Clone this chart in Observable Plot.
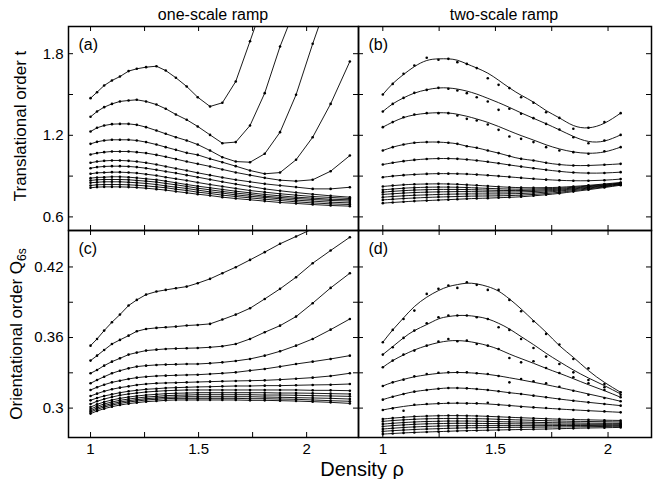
<!DOCTYPE html>
<html><head><meta charset="utf-8">
<script src="https://cdn.jsdelivr.net/npm/d3@7"></script>
<script src="https://cdn.jsdelivr.net/npm/@observablehq/plot@0.6"></script>
<style>
body{margin:0;background:#fff;}
#wrap{position:relative;width:664px;height:479px;font-family:"Liberation Sans",Arial,sans-serif;color:#000;overflow:hidden;}
.pn{position:absolute;}
.lbl{position:absolute;white-space:nowrap;transform:translate(-50%,-50%);line-height:1;}
.rot{transform:translate(-50%,-50%) rotate(-90deg);}
sub{font-size:12px;vertical-align:-4px;}
</style></head><body><div id="wrap"></div>
<script>
// density values (x) of the samples
const rhoOne = [1.0, 1.03, 1.063, 1.099, 1.136, 1.176, 1.214, 1.257, 1.305, 1.348, 1.395, 1.445, 1.496, 1.553, 1.61, 1.672, 1.738, 1.806, 1.877, 1.951, 2.028, 2.111, 2.2];
const rhoTwo = [1.0, 1.044, 1.092, 1.14, 1.195, 1.247, 1.291, 1.331, 1.373, 1.417, 1.466, 1.514, 1.562, 1.614, 1.669, 1.725, 1.784, 1.846, 1.913, 1.984, 2.056];

// (a) translational order t, one-scale ramp
const tOne = [
  [1.473, 1.517, 1.566, 1.603, 1.632, 1.672, 1.689, 1.701, 1.708, 1.676, 1.623, 1.559, 1.480, 1.412, 1.439, 1.596, 1.892, 2.2],
  [1.336, 1.375, 1.407, 1.431, 1.449, 1.456, 1.461, 1.449, 1.426, 1.395, 1.353, 1.314, 1.265, 1.203, 1.142, 1.150, 1.272, 1.510, 1.853, 2.15],
  [1.228, 1.255, 1.272, 1.282, 1.284, 1.284, 1.277, 1.260, 1.235, 1.211, 1.186, 1.162, 1.132, 1.088, 1.039, 1.007, 1.002, 1.064, 1.223, 1.498, 1.873, 2.25],
  [1.137, 1.152, 1.162, 1.167, 1.167, 1.167, 1.162, 1.150, 1.132, 1.113, 1.093, 1.071, 1.056, 1.027, 1.002, 0.973, 0.941, 0.917, 0.926, 1.020, 1.186, 1.431, 1.743],
  [1.059, 1.069, 1.076, 1.081, 1.081, 1.081, 1.076, 1.069, 1.056, 1.042, 1.025, 1.007, 0.990, 0.971, 0.949, 0.927, 0.907, 0.887, 0.870, 0.863, 0.873, 0.936, 1.051],
  [0.998, 1.007, 1.012, 1.015, 1.015, 1.012, 1.007, 0.998, 0.985, 0.971, 0.956, 0.941, 0.924, 0.907, 0.890, 0.873, 0.858, 0.843, 0.831, 0.819, 0.806, 0.806, 0.818],
  [0.958, 0.966, 0.971, 0.973, 0.973, 0.971, 0.966, 0.958, 0.946, 0.934, 0.922, 0.907, 0.892, 0.875, 0.858, 0.841, 0.824, 0.806, 0.792, 0.779, 0.767, 0.755, 0.745],
  [0.917, 0.924, 0.926, 0.929, 0.929, 0.926, 0.922, 0.914, 0.904, 0.892, 0.880, 0.868, 0.853, 0.838, 0.824, 0.809, 0.794, 0.782, 0.770, 0.760, 0.750, 0.743, 0.735],
  [0.885, 0.890, 0.892, 0.895, 0.895, 0.892, 0.887, 0.880, 0.873, 0.863, 0.851, 0.838, 0.826, 0.814, 0.802, 0.789, 0.777, 0.765, 0.755, 0.745, 0.738, 0.730, 0.726],
  [0.868, 0.873, 0.875, 0.875, 0.875, 0.873, 0.868, 0.863, 0.856, 0.846, 0.836, 0.824, 0.811, 0.799, 0.787, 0.775, 0.765, 0.752, 0.743, 0.735, 0.728, 0.721, 0.716],
  [0.851, 0.855, 0.858, 0.858, 0.858, 0.855, 0.851, 0.846, 0.838, 0.828, 0.819, 0.809, 0.797, 0.784, 0.775, 0.762, 0.752, 0.743, 0.733, 0.723, 0.716, 0.708, 0.703],
  [0.831, 0.836, 0.838, 0.838, 0.838, 0.836, 0.833, 0.828, 0.821, 0.814, 0.804, 0.794, 0.782, 0.772, 0.760, 0.750, 0.740, 0.730, 0.721, 0.711, 0.703, 0.696, 0.691],
  [0.814, 0.819, 0.821, 0.821, 0.821, 0.819, 0.816, 0.811, 0.804, 0.797, 0.787, 0.777, 0.767, 0.757, 0.745, 0.735, 0.726, 0.716, 0.706, 0.699, 0.691, 0.684, 0.679]
];

// (b) translational order t, two-scale ramp: sampled points
const tTwo = [
  [1.500, 1.578, 1.652, 1.713, 1.770, 1.755, 1.762, 1.738, 1.725, 1.694, 1.620, 1.571, 1.547, 1.480, 1.439, 1.370, 1.328, 1.248, 1.255, 1.297, 1.363],
  [1.375, 1.431, 1.475, 1.512, 1.534, 1.549, 1.542, 1.529, 1.510, 1.480, 1.449, 1.387, 1.395, 1.358, 1.326, 1.284, 1.243, 1.186, 1.142, 1.162, 1.203],
  [1.260, 1.297, 1.333, 1.353, 1.363, 1.363, 1.363, 1.346, 1.321, 1.309, 1.279, 1.240, 1.191, 1.174, 1.150, 1.113, 1.088, 1.076, 1.064, 1.083, 1.113],
  [1.088, 1.113, 1.132, 1.145, 1.150, 1.150, 1.145, 1.137, 1.120, 1.108, 1.088, 1.069, 1.047, 1.027, 1.015, 0.998, 0.985, 0.978, 0.978, 0.983, 0.990],
  [0.985, 0.998, 1.010, 1.019, 1.026, 1.029, 1.029, 1.027, 1.022, 1.015, 1.005, 0.994, 0.982, 0.970, 0.958, 0.946, 0.935, 0.926, 0.922, 0.923, 0.929],
  [0.892, 0.900, 0.907, 0.912, 0.916, 0.918, 0.918, 0.917, 0.915, 0.911, 0.906, 0.900, 0.894, 0.887, 0.880, 0.874, 0.869, 0.866, 0.866, 0.870, 0.878],
  [0.824, 0.830, 0.836, 0.840, 0.842, 0.843, 0.842, 0.840, 0.836, 0.832, 0.827, 0.822, 0.818, 0.815, 0.814, 0.815, 0.818, 0.824, 0.832, 0.842, 0.853],
  [0.799, 0.805, 0.811, 0.815, 0.818, 0.819, 0.819, 0.818, 0.816, 0.813, 0.810, 0.807, 0.805, 0.804, 0.805, 0.807, 0.811, 0.818, 0.827, 0.838, 0.849],
  [0.782, 0.788, 0.793, 0.797, 0.800, 0.802, 0.802, 0.802, 0.801, 0.799, 0.797, 0.795, 0.794, 0.794, 0.796, 0.799, 0.804, 0.812, 0.822, 0.834, 0.846],
  [0.765, 0.770, 0.775, 0.779, 0.782, 0.784, 0.785, 0.786, 0.786, 0.785, 0.784, 0.783, 0.783, 0.784, 0.787, 0.791, 0.797, 0.806, 0.817, 0.830, 0.843],
  [0.745, 0.750, 0.755, 0.759, 0.762, 0.765, 0.767, 0.768, 0.769, 0.769, 0.769, 0.769, 0.770, 0.772, 0.776, 0.782, 0.790, 0.800, 0.812, 0.826, 0.840],
  [0.725, 0.730, 0.735, 0.739, 0.743, 0.746, 0.748, 0.750, 0.752, 0.753, 0.754, 0.755, 0.757, 0.760, 0.765, 0.772, 0.781, 0.793, 0.806, 0.821, 0.837],
  [0.701, 0.706, 0.711, 0.716, 0.720, 0.724, 0.727, 0.730, 0.733, 0.736, 0.738, 0.741, 0.744, 0.748, 0.755, 0.763, 0.773, 0.786, 0.800, 0.816, 0.833]
];
// (b) smooth fitted curves (first rows; others follow the points)
const tTwoFit = [
  [1.500, 1.580, 1.647, 1.705, 1.750, 1.762, 1.762, 1.752, 1.725, 1.695, 1.657, 1.605, 1.549, 1.495, 1.444, 1.382, 1.328, 1.272, 1.255, 1.289, 1.363],
  [1.375, 1.431, 1.475, 1.510, 1.535, 1.548, 1.548, 1.540, 1.525, 1.503, 1.472, 1.440, 1.405, 1.365, 1.325, 1.285, 1.240, 1.192, 1.155, 1.158, 1.203],
  [1.260, 1.297, 1.330, 1.350, 1.362, 1.366, 1.364, 1.355, 1.340, 1.320, 1.295, 1.265, 1.232, 1.198, 1.165, 1.130, 1.100, 1.078, 1.068, 1.078, 1.113]
];

// (c) orientational order Q6s, one-scale ramp
const qOne = [
  [0.3531, 0.3588, 0.3659, 0.3730, 0.3795, 0.3872, 0.3920, 0.3965, 0.3991, 0.4005, 0.4019, 0.4033, 0.4062, 0.4099, 0.4147, 0.4198, 0.4260, 0.4326, 0.4397, 0.4459, 0.4524],
  [0.3404, 0.3446, 0.3494, 0.3545, 0.3580, 0.3616, 0.3653, 0.3673, 0.3682, 0.3687, 0.3693, 0.3702, 0.3707, 0.3716, 0.3753, 0.3795, 0.3849, 0.3928, 0.4014, 0.4113, 0.4232, 0.4340, 0.4453],
  [0.3296, 0.3324, 0.3361, 0.3395, 0.3423, 0.3455, 0.3472, 0.3489, 0.3497, 0.3503, 0.3506, 0.3509, 0.3511, 0.3517, 0.3526, 0.3545, 0.3588, 0.3645, 0.3701, 0.3778, 0.3892, 0.4022, 0.4147],
  [0.3211, 0.3239, 0.3267, 0.3296, 0.3318, 0.3338, 0.3353, 0.3361, 0.3367, 0.3370, 0.3372, 0.3375, 0.3375, 0.3381, 0.3389, 0.3401, 0.3418, 0.3446, 0.3483, 0.3531, 0.3588, 0.3667, 0.3758],
  [0.3154, 0.3177, 0.3199, 0.3219, 0.3233, 0.3248, 0.3259, 0.3267, 0.3273, 0.3276, 0.3279, 0.3282, 0.3284, 0.3290, 0.3296, 0.3304, 0.3319, 0.3333, 0.3353, 0.3375, 0.3395, 0.3418, 0.3446],
  [0.3103, 0.3123, 0.3143, 0.3160, 0.3174, 0.3185, 0.3197, 0.3205, 0.3211, 0.3214, 0.3216, 0.3219, 0.3222, 0.3225, 0.3228, 0.3231, 0.3233, 0.3236, 0.3242, 0.3250, 0.3259, 0.3273, 0.3296],
  [0.3066, 0.3086, 0.3103, 0.3117, 0.3131, 0.3143, 0.3151, 0.3160, 0.3165, 0.3171, 0.3174, 0.3177, 0.3180, 0.3182, 0.3185, 0.3188, 0.3188, 0.3191, 0.3191, 0.3194, 0.3197, 0.3199, 0.3205],
  [0.3035, 0.3058, 0.3077, 0.3094, 0.3109, 0.3120, 0.3128, 0.3137, 0.3143, 0.3148, 0.3151, 0.3154, 0.3154, 0.3154, 0.3154, 0.3154, 0.3154, 0.3154, 0.3154, 0.3154, 0.3151, 0.3151, 0.3148],
  [0.3009, 0.3032, 0.3052, 0.3069, 0.3083, 0.3094, 0.3103, 0.3111, 0.3117, 0.3123, 0.3126, 0.3128, 0.3131, 0.3131, 0.3131, 0.3131, 0.3131, 0.3131, 0.3128, 0.3128, 0.3126, 0.3123, 0.3120],
  [0.2992, 0.3015, 0.3035, 0.3052, 0.3066, 0.3077, 0.3086, 0.3094, 0.3100, 0.3106, 0.3109, 0.3111, 0.3114, 0.3114, 0.3114, 0.3114, 0.3114, 0.3111, 0.3111, 0.3109, 0.3106, 0.3103, 0.3100],
  [0.2978, 0.3001, 0.3021, 0.3038, 0.3052, 0.3063, 0.3072, 0.3080, 0.3086, 0.3092, 0.3094, 0.3097, 0.3097, 0.3097, 0.3097, 0.3097, 0.3097, 0.3094, 0.3092, 0.3089, 0.3086, 0.3083, 0.3077],
  [0.2967, 0.2989, 0.3009, 0.3026, 0.3040, 0.3052, 0.3060, 0.3069, 0.3075, 0.3080, 0.3083, 0.3083, 0.3083, 0.3083, 0.3083, 0.3083, 0.3080, 0.3080, 0.3077, 0.3075, 0.3069, 0.3063, 0.3058],
  [0.2953, 0.2975, 0.2995, 0.3012, 0.3026, 0.3038, 0.3046, 0.3055, 0.3060, 0.3066, 0.3069, 0.3069, 0.3069, 0.3069, 0.3069, 0.3069, 0.3066, 0.3066, 0.3063, 0.3060, 0.3055, 0.3049, 0.3040]
];

// (d) orientational order Q6s, two-scale ramp: sampled points
const qTwo = [
  [0.3560, 0.3665, 0.3758, 0.3829, 0.3971, 0.4014, 0.4042, 0.4022, 0.4070, 0.4048, 0.4005, 0.4005, 0.3920, 0.3823, 0.3738, 0.3631, 0.3540, 0.3418, 0.3338, 0.3205, 0.3134],
  [0.3455, 0.3517, 0.3597, 0.3659, 0.3721, 0.3772, 0.3787, 0.3787, 0.3787, 0.3772, 0.3758, 0.3687, 0.3665, 0.3588, 0.3511, 0.3438, 0.3375, 0.3304, 0.3239, 0.3177, 0.3114],
  [0.3347, 0.3404, 0.3455, 0.3489, 0.3531, 0.3565, 0.3588, 0.3568, 0.3574, 0.3545, 0.3531, 0.3503, 0.3426, 0.3389, 0.3398, 0.3341, 0.3299, 0.3262, 0.3211, 0.3154, 0.3092],
  [0.3188, 0.3219, 0.3242, 0.3270, 0.3290, 0.3301, 0.3304, 0.3304, 0.3304, 0.3296, 0.3290, 0.3273, 0.3219, 0.3248, 0.3228, 0.3211, 0.3182, 0.3148, 0.3114, 0.3086, 0.3058],
  [0.3072, 0.3097, 0.3120, 0.3140, 0.3154, 0.3165, 0.3171, 0.3171, 0.3168, 0.3162, 0.3154, 0.3143, 0.3131, 0.3120, 0.3106, 0.3092, 0.3077, 0.3063, 0.3049, 0.3035, 0.3021],
  [0.2984, 0.2998, 0.2978, 0.3029, 0.3035, 0.3040, 0.3043, 0.3043, 0.3040, 0.3040, 0.3046, 0.3029, 0.3021, 0.3012, 0.3006, 0.3001, 0.2992, 0.2984, 0.2978, 0.2972, 0.2964],
  [0.2907, 0.2915, 0.2922, 0.2928, 0.2932, 0.2935, 0.2936, 0.2936, 0.2935, 0.2933, 0.2930, 0.2926, 0.2922, 0.2918, 0.2914, 0.2910, 0.2906, 0.2903, 0.2900, 0.2897, 0.2895],
  [0.2887, 0.2894, 0.2900, 0.2905, 0.2909, 0.2911, 0.2912, 0.2912, 0.2911, 0.2910, 0.2908, 0.2905, 0.2902, 0.2899, 0.2896, 0.2893, 0.2890, 0.2888, 0.2886, 0.2884, 0.2882],
  [0.2864, 0.2871, 0.2877, 0.2882, 0.2886, 0.2888, 0.2890, 0.2890, 0.2890, 0.2889, 0.2887, 0.2885, 0.2883, 0.2881, 0.2879, 0.2877, 0.2875, 0.2874, 0.2872, 0.2871, 0.2870],
  [0.2844, 0.2851, 0.2857, 0.2862, 0.2866, 0.2868, 0.2870, 0.2871, 0.2871, 0.2870, 0.2869, 0.2868, 0.2867, 0.2866, 0.2865, 0.2864, 0.2863, 0.2863, 0.2862, 0.2862, 0.2862],
  [0.2822, 0.2829, 0.2835, 0.2840, 0.2844, 0.2847, 0.2849, 0.2850, 0.2851, 0.2851, 0.2851, 0.2851, 0.2851, 0.2851, 0.2851, 0.2851, 0.2852, 0.2852, 0.2852, 0.2853, 0.2853],
  [0.2802, 0.2808, 0.2813, 0.2818, 0.2822, 0.2825, 0.2828, 0.2830, 0.2832, 0.2833, 0.2834, 0.2835, 0.2836, 0.2837, 0.2838, 0.2839, 0.2840, 0.2841, 0.2842, 0.2844, 0.2845],
  [0.2779, 0.2784, 0.2789, 0.2793, 0.2797, 0.2800, 0.2803, 0.2806, 0.2808, 0.2810, 0.2812, 0.2814, 0.2816, 0.2818, 0.2820, 0.2822, 0.2825, 0.2828, 0.2831, 0.2833, 0.2836]
];
// (d) smooth fitted curves (first rows; others follow the points)
const qTwoFit = [
  [0.3560, 0.3665, 0.3767, 0.3863, 0.3943, 0.3999, 0.4033, 0.4050, 0.4062, 0.4056, 0.4033, 0.3994, 0.3928, 0.3843, 0.3744, 0.3645, 0.3531, 0.3432, 0.3319, 0.3219, 0.3134],
  [0.3455, 0.3523, 0.3597, 0.3659, 0.3710, 0.3758, 0.3778, 0.3787, 0.3787, 0.3778, 0.3758, 0.3721, 0.3673, 0.3608, 0.3540, 0.3466, 0.3395, 0.3324, 0.3256, 0.3191, 0.3120],
  [0.3347, 0.3404, 0.3452, 0.3494, 0.3531, 0.3557, 0.3571, 0.3574, 0.3568, 0.3554, 0.3531, 0.3500, 0.3460, 0.3421, 0.3381, 0.3338, 0.3296, 0.3250, 0.3199, 0.3148, 0.3092],
  [0.3188, 0.3219, 0.3244, 0.3266, 0.3283, 0.3295, 0.3301, 0.3303, 0.3301, 0.3296, 0.3287, 0.3274, 0.3258, 0.3240, 0.3220, 0.3199, 0.3175, 0.3149, 0.3120, 0.3090, 0.3058],
  [0.3072, 0.3097, 0.3120, 0.3140, 0.3154, 0.3165, 0.3171, 0.3171, 0.3168, 0.3162, 0.3154, 0.3143, 0.3131, 0.3120, 0.3106, 0.3092, 0.3077, 0.3063, 0.3049, 0.3035, 0.3021],
  [0.2984, 0.3000, 0.3014, 0.3025, 0.3033, 0.3038, 0.3041, 0.3042, 0.3041, 0.3039, 0.3035, 0.3029, 0.3022, 0.3014, 0.3006, 0.2999, 0.2992, 0.2985, 0.2978, 0.2971, 0.2964]
];

// tick values and labels
const rhoTicks = [1, 1.25, 1.5, 1.75, 2];
const rhoLabels = [1, 1.5, 2];
const tTicks = [0.6, 0.9, 1.2, 1.5, 1.8];
const tLabels = [0.6, 1.2, 1.8];
const qTicks = [0.30, 0.33, 0.36, 0.39, 0.42];
const qLabels = [0.30, 0.36, 0.42];
const panelTags = ["(a)", "(b)", "(c)", "(d)"];
const columnTitles = ["one-scale ramp", "two-scale ramp"];

const FONT = '"Liberation Sans", Arial, Helvetica, sans-serif';
const wrap = document.getElementById("wrap");

function toRows(series, xs) {
  const rows = [];
  series.forEach((s, i) => s.forEach((v, j) => rows.push({k: i, x: xs[j], y: v})));
  return rows;
}

function makePanel(o) {
  const pts = toRows(o.series, o.xs);
  const fitSeries = o.series.map((s, i) => (o.fit && o.fit[i]) || s);
  const lineRows = toRows(fitSeries, o.xs);
  const innerH = o.height - o.mt - o.mb;
  const innerW = o.width - o.ml - o.mr;
  const TL = 5;
  const chart = Plot.plot({
    width: o.width, height: o.height,
    marginLeft: o.ml, marginRight: o.mr, marginTop: o.mt, marginBottom: o.mb,
    style: {background: "transparent", overflow: "visible", fontFamily: FONT, fontSize: "15px", color: "#000"},
    x: {domain: o.xDomain, ticks: rhoLabels, tickFormat: d => String(d), tickSize: 0, tickPadding: 6, axis: o.showX ? "bottom" : null, label: null},
    y: {domain: o.yDomain, ticks: o.yLabels, tickFormat: d => String(d), tickSize: 0, tickPadding: 5, axis: o.showY ? "left" : null, label: null},
    marks: [
      Plot.line(lineRows, {x: "x", y: "y", z: "k", stroke: "#000", strokeWidth: 0.9, curve: o.curve, clip: true}),
      Plot.dot(pts, {x: "x", y: "y", r: 1.3, fill: "#000", stroke: null, clip: true}),
      Plot.tickX(rhoTicks, {x: d => d, insetTop: innerH - TL, stroke: "#000"}),
      Plot.tickX(rhoTicks, {x: d => d, insetBottom: innerH - TL, stroke: "#000"}),
      Plot.tickY(o.yTicks, {y: d => d, insetRight: innerW - TL, stroke: "#000"}),
      Plot.tickY(o.yTicks, {y: d => d, insetLeft: innerW - TL, stroke: "#000"}),
      Plot.frame({stroke: "#000", strokeWidth: 1.5}),
      Plot.text([o.tag], {frameAnchor: "top-left", text: d => d, dx: 10, dy: 18, textAnchor: "start", lineAnchor: "middle", fontSize: 16, fill: "#000"})
    ]
  });
  chart.classList.add("pn");
  chart.style.left = o.left + "px";
  chart.style.top = o.top + "px";
  wrap.appendChild(chart);
}

const domOne = [0.898, 2.24];
const domTwo = [0.892, 2.193];
makePanel({series: tOne, xs: rhoOne, xDomain: domOne, yDomain: [0.5, 2.0], yTicks: tTicks, yLabels: tLabels, showX: false, showY: true, curve: "linear", tag: panelTags[0], left: 0, top: 0, width: 358, height: 230, ml: 68, mr: 0, mt: 26, mb: 0});
makePanel({series: tTwo, fit: tTwoFit, xs: rhoTwo, xDomain: domTwo, yDomain: [0.5, 2.0], yTicks: tTicks, yLabels: tLabels, showX: false, showY: false, curve: "natural", tag: panelTags[1], left: 358, top: 0, width: 306, height: 230, ml: 0, mr: 13, mt: 26, mb: 0});
makePanel({series: qOne, xs: rhoOne, xDomain: domOne, yDomain: [0.275, 0.451], yTicks: qTicks, yLabels: qLabels, showX: true, showY: true, curve: "linear", tag: panelTags[2], left: 0, top: 230, width: 358, height: 249, ml: 68, mr: 0, mt: 0, mb: 42});
makePanel({series: qTwo, fit: qTwoFit, xs: rhoTwo, xDomain: domTwo, yDomain: [0.275, 0.451], yTicks: qTicks, yLabels: qLabels, showX: true, showY: false, curve: "natural", tag: panelTags[3], left: 358, top: 230, width: 306, height: 249, ml: 0, mr: 13, mt: 0, mb: 42});

function addLabel(html, x, y, size, cls) {
  const d = document.createElement("div");
  d.className = "lbl" + (cls ? " " + cls : "");
  d.style.left = x + "px";
  d.style.top = y + "px";
  d.style.fontSize = size + "px";
  d.innerHTML = html;
  wrap.appendChild(d);
}
addLabel(columnTitles[0], 213, 15, 16);
addLabel(columnTitles[1], 504, 15, 16);
addLabel("Density ρ", 362, 469, 20);
addLabel("Translational order t", 20, 126, 17, "rot");
addLabel("Orientational order Q<sub>6s</sub>", 18, 334, 17, "rot");
</script>
</body></html>
